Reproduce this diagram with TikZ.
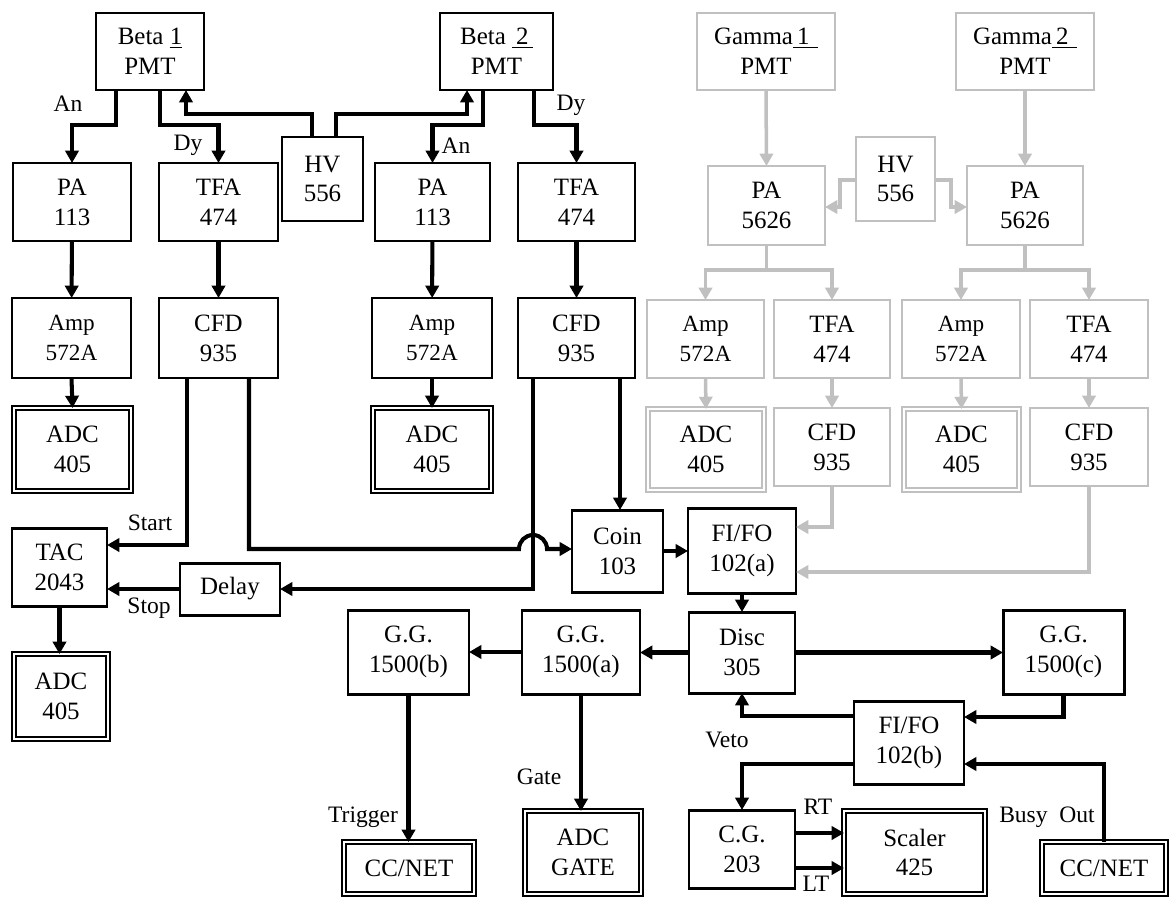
\documentclass[tikz,border=0pt]{standalone}
\usepackage{fontspec}
\setmainfont{Liberation Serif}
\usetikzlibrary{arrows.meta}
\definecolor{lg}{RGB}{192,192,192}
\newcommand\bx[7][box]{\node[#1, minimum width={(#4-#2)*0.02cm}, minimum height={(#5-#3)*0.02cm}] (#6) at ({(#2+#4)/2},{(#3+#5)/2}) {#7};}
\begin{document}
\begin{tikzpicture}[x=0.02cm,y=-0.02cm,
  box/.style={draw=black, line width=1.7pt, fill=white, inner sep=0pt, outer sep=0pt, align=center, font=\fontsize{14.2}{17}\selectfont},
  abox/.style={box, font=\fontsize{13.2}{17}\selectfont},
  dbox/.style={box, double=white, line width=1.3pt, double distance=1.3pt},
  gbox/.style={box, draw=lg, line width=1.6pt},
  gabox/.style={gbox, font=\fontsize{13.2}{17}\selectfont},
  gdbox/.style={gbox, double=white, line width=1.2pt, double distance=1.3pt},
  conn/.style={draw=black, line width=2.3pt, -{Triangle[length=7pt,width=7.5pt]}},
  gconn/.style={draw=lg, line width=2pt, -{Triangle[length=7pt,width=7.5pt]}},
  lbl/.style={inner sep=0pt, font=\fontsize{13.4}{15}\selectfont}]
\useasboundingbox (0,0) rectangle (1171,900);
% ---- black boxes
\bx{96}{13}{204}{90}{b1}{Beta \underline{1}\\PMT}
\bx{440}{13}{553}{90}{b2}{Beta \underline{\,2\,}\\PMT}
\bx{282}{137}{363}{221}{hv1}{HV\\556}
\bx{13}{163}{131}{241}{pa1}{PA\\113}
\bx{159}{163}{278}{241}{tfa1}{TFA\\474}
\bx{375}{163}{490}{241}{pa2}{PA\\113}
\bx{518}{163}{635}{241}{tfa2}{TFA\\474}
\bx[abox]{12}{298}{131}{378}{amp1}{Amp\\572A}
\bx{159}{298}{278}{378}{cfd1}{CFD\\935}
\bx[abox]{372}{298}{492}{378}{amp2}{Amp\\572A}
\bx{518}{298}{635}{378}{cfd2}{CFD\\935}
\bx[dbox]{14}{408}{131}{491}{adc1}{ADC\\405}
\bx[dbox]{373}{408}{491}{491}{adc2}{ADC\\405}
\bx{12}{528}{107}{606}{tac}{TAC\\2043}
\bx{180}{563}{280}{615}{delay}{Delay}
\bx{572}{510}{663}{592}{coin}{Coin\\103}
\bx{688}{508}{796}{593}{fifoa}{FI/FO\\102(a)}
\bx[dbox]{14}{654}{108}{739}{adc3}{ADC\\405}
\bx{348}{610}{469}{694}{ggb}{G.G.\\1500(b)}
\bx{522}{610}{640}{694}{gga}{G.G.\\1500(a)}
\bx{689}{612}{795}{693}{disc}{Disc\\305}
\bx{1003}{610}{1124}{694}{ggc}{G.G.\\1500(c)}
\bx{854}{701}{964}{784}{fifob}{FI/FO\\102(b)}
\bx[dbox]{344}{842}{474}{894}{cc1}{CC/NET}
\bx[dbox]{525}{811}{641}{894}{adcg}{ADC\\GATE}
\bx{689}{810}{795}{888}{cg}{C.G.\\203}
\bx[dbox]{844}{811}{985}{894}{scaler}{Scaler\\425}
\bx[dbox]{1042}{842}{1166}{894}{cc2}{CC/NET}
% ---- gray boxes
\bx[gbox]{697}{13}{835}{90}{g1}{Gamma\underline{\,1\,\,}\\PMT}
\bx[gbox]{956}{13}{1094}{90}{g2}{Gamma\underline{\,2\,\,}\\PMT}
\bx[gbox]{708}{166}{825}{245}{gpa1}{PA\\5626}
\bx[gbox]{856}{137}{935}{221}{ghv}{HV\\556}
\bx[gbox]{967}{166}{1083}{245}{gpa2}{PA\\5626}
\bx[gabox]{647}{300}{764}{378}{gamp1}{Amp\\572A}
\bx[gbox]{774}{300}{890}{378}{gtfa1}{TFA\\474}
\bx[gabox]{902}{300}{1020}{378}{gamp2}{Amp\\572A}
\bx[gbox]{1030}{300}{1148}{378}{gtfa2}{TFA\\474}
\bx[gdbox]{648}{409}{764}{490}{gadc1}{ADC\\405}
\bx[gbox]{774}{408}{890}{486}{gcfd1}{CFD\\935}
\bx[gdbox]{904}{409}{1019}{490}{gadc2}{ADC\\405}
\bx[gbox]{1030}{408}{1148}{486}{gcfd2}{CFD\\935}
% ---- black connectors
\draw[conn] (b1.south -| 116,0) |- (pa1.north |- 0,125) -- (pa1.north);
\draw[conn] (b1.south -| 160,0) |- (tfa1.north |- 0,125) -- (tfa1.north);
\draw[conn] (hv1.north -| 312,0) |- (186,114) -- (b1.south -| 186,0);
\draw[conn] (hv1.north -| 336,0) |- (467,114) -- (b2.south -| 467,0);
\draw[conn] (b2.south -| 483,0) |- (pa2.north |- 0,125) -- (pa2.north);
\draw[conn] (b2.south -| 534,0) |- (tfa2.north |- 0,125) -- (tfa2.north);
\draw[conn] (pa1) -- (amp1);
\draw[conn] (tfa1) -- (cfd1);
\draw[conn] (pa2) -- (amp2);
\draw[conn] (tfa2) -- (cfd2);
\draw[conn] (amp1.south) -- (adc1.north);
\draw[conn] (amp2.south) -- (adc2.north);
\draw[conn] (cfd1.south -| 187,0) |- (tac.east |- 0,545);
\draw[conn] (cfd1.south -| 249,0) |- (519,549) arc (180:0:0.28cm) -- (coin.west |- 0,549);
\draw[conn] (cfd2.south -| 533,0) |- (delay.east);
\draw[conn] (cfd2.south -| 620,0) -- (coin.north -| 620,0);
\draw[conn] (delay.west) -- (tac.east |- delay.west);
\draw[conn] (tac.south) -- (adc3.north -| tac.south);
\draw[conn] (coin.east) -- (fifoa.west |- coin.east);
\draw[conn] (fifoa.south) -- (disc.north);
\draw[conn] (disc.west) -- (gga.east |- disc.west);
\draw[conn] (gga.west) -- (ggb.east);
\draw[conn] (disc.east) -- (ggc.west |- disc.east);
\draw[conn] (ggb.south) -- (cc1.north -| ggb.south);
\draw[conn] (gga.south) -- (adcg.north -| gga.south);
\draw[conn] (ggc.south) |- (fifob.east |- 0,717);
\draw[conn] (fifob.west |- 0,716) -| (disc.south);
\draw[conn] (fifob.west |- 0,764) -| (cg.north);
\draw[conn] (cc2.north) |- (fifob.east |- 0,764);
\draw[conn] (cg.east |- 0,833) -- (scaler.west |- 0,833);
\draw[conn] (cg.east |- 0,868) -- (scaler.west |- 0,868);
% ---- gray connectors
\draw[gconn] (g1.south) -- (gpa1.north);
\draw[gconn] (g2.south) -- (gpa2.north);
\draw[gconn] (ghv.west |- 0,180) -| (840,207) -- (gpa1.east |- 0,207);
\draw[gconn] (ghv.east |- 0,180) -| (951,207) -- (gpa2.west |- 0,207);
\draw[gconn] (gpa1.south) -- (gpa1.south |- 0,270) -| (gamp1.north);
\draw[gconn] (gpa1.south |- 0,270) -| (gtfa1.north);
\draw[gconn] (gpa2.south) -- (gpa2.south |- 0,270) -| (gamp2.north);
\draw[gconn] (gpa2.south |- 0,270) -| (gtfa2.north);
\draw[gconn] (gamp1.south) -- (gadc1.north);
\draw[gconn] (gtfa1.south) -- (gcfd1.north);
\draw[gconn] (gamp2.south) -- (gadc2.north);
\draw[gconn] (gtfa2.south) -- (gcfd2.north);
\draw[gconn] (gcfd1.south) |- (fifoa.east |- 0,527);
\draw[gconn] (gcfd2.south) |- (fifoa.east |- 0,572);
% ---- labels
\node[lbl] (lan1) at (68,104) {An};
\node[lbl] (ldy1) at (188,145) {Dy};
\node[lbl] (lan2) at (456,146) {An};
\node[lbl] (ldy2) at (571,105) {Dy};
\node[lbl] (lstart) at (150,523) {Start};
\node[lbl] (lstop) at (149,608) {Stop};
\node[lbl] (ltrig) at (363,817) {Trigger};
\node[lbl] (lgate) at (539,777) {Gate};
\node[lbl] (lveto) at (727,740) {Veto};
\node[lbl] (lrt) at (818,807) {RT};
\node[lbl] (llt) at (816,884) {LT};
\node[lbl] (lbusy) at (1047,817) {Busy\enspace Out};
\end{tikzpicture}
\end{document}
